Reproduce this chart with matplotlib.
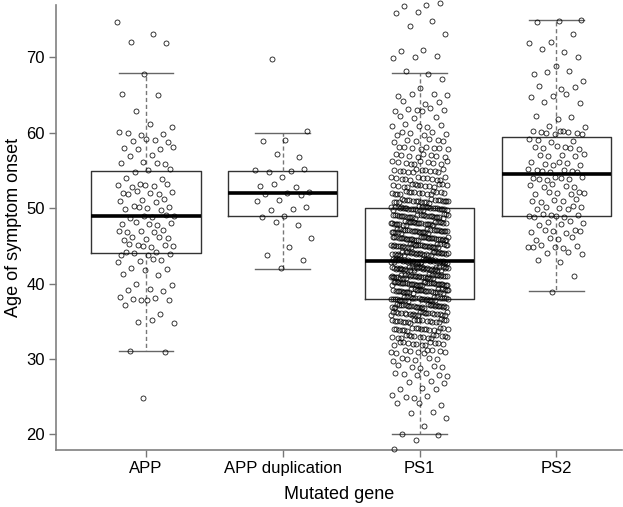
import numpy as np
import matplotlib
matplotlib.use('Agg')
import matplotlib.pyplot as plt

plt.rcParams['font.family'] = ['Liberation Sans', 'DejaVu Sans']

#-------------------------------------------------------------------------------
#DATA (ages of onset, as age: number of patients)

genes = ['APP', 'APP duplication', 'PS1', 'PS2']

app_ages = [75, 73, 72, 68, 65, 63, 61, 60, 59, 58, 57, 56, 55, 54, 53, 52, 51,
            50, 49, 48, 47, 46, 45, 44, 43, 42, 41, 40, 39, 38, 37, 36, 35, 31, 25]
app_counts = [1, 1, 2, 1, 2, 1, 2, 4, 4, 4, 2, 4, 3, 2, 6, 6, 4,
              6, 5, 5, 5, 5, 6, 6, 4, 3, 2, 2, 3, 6, 1, 1, 3, 2, 1]

dup_ages = [70, 60, 59, 57, 55, 54, 53, 52, 51, 50, 49, 48, 46, 45, 44, 43, 42]
dup_counts = [1, 1, 2, 2, 4, 1, 3, 4, 2, 3, 2, 2, 1, 1, 1, 1, 1]

ps1_ages = [77, 76, 75, 74, 73, 71, 70, 68, 67, 66, 65, 64, 63, 62, 61, 60, 59,
            58, 57, 56, 55, 54, 53, 52, 51, 50, 49, 48, 47, 46, 45, 44, 43, 42,
            41, 40, 39, 38, 37, 36, 35, 34, 33, 32, 31, 30, 29, 28, 27, 26, 25,
            24, 23, 22, 21, 20, 19, 18]
ps1_counts = [3, 2, 1, 1, 1, 2, 3, 2, 1, 1, 4, 3, 6, 3, 5, 6, 6,
              8, 8, 10, 12, 12, 14, 16, 22, 30, 28, 30, 32, 32, 32, 32, 38, 38,
              36, 34, 32, 32, 30, 24, 20, 18, 16, 12, 10, 6, 5, 6, 3, 3, 4,
              3, 2, 1, 1, 2, 1, 1]

ps2_ages = [75, 73, 72, 71, 70, 69, 68, 67, 66, 65, 64, 62, 61, 60, 59, 58, 57,
            56, 55, 54, 53, 52, 51, 50, 49, 48, 47, 46, 45, 44, 43, 41, 39]
ps2_counts = [3, 1, 2, 2, 1, 1, 3, 1, 3, 3, 2, 3, 2, 9, 4, 6, 5,
              6, 7, 7, 5, 6, 5, 6, 7, 5, 6, 4, 6, 3, 2, 1, 1]

#box statistics as drawn (lower whisker, Q1, median, Q3, upper whisker)
whislo = [31, 42, 20, 39]
q1 = [44, 49, 38, 49]
med = [49, 52, 43, 54.5]
q3 = [55, 55, 50, 59.5]
whishi = [68, 60, 68, 75]

#-------------------------------------------------------------------------------
#PLOT

fig = plt.figure(figsize=(6.23, 5.07), dpi=100)
ax = fig.add_axes([0.0899, 0.1124, 0.909, 0.878])

stats = []
for i in range(len(genes)):
    stats.append(dict(whislo=whislo[i], q1=q1[i], med=med[i], q3=q3[i],
                      whishi=whishi[i], fliers=[]))

ax.bxp(stats, positions=range(1, 5), widths=0.8, showfliers=False,
       boxprops=dict(color='#333333', linewidth=1.0),
       medianprops=dict(color='black', linewidth=2.6),
       whiskerprops=dict(color='#777777', linewidth=1.0, linestyle=(0, (3, 2))),
       capprops=dict(color='#666666', linewidth=1.0), capwidths=0.4, zorder=1)

#jittered points (deterministic spread, mostly sideways, a little vertically)
groups = [(app_ages, app_counts), (dup_ages, dup_counts),
          (ps1_ages, ps1_counts), (ps2_ages, ps2_counts)]
for i, (ages, counts) in enumerate(groups):
    y = np.repeat(ages, counts).astype(float)
    k = np.arange(len(y))
    dx = ((k*0.6180339887 + 0.31*i) % 1.0 - 0.5)*0.42
    dy = ((k*0.7548776662 + 0.17*i) % 1.0 - 0.5)*0.5
    ax.plot(i + 1 + dx, y + dy, 'o', mfc='none', mec='black', ms=3.6, mew=0.6,
            alpha=0.9, zorder=3, clip_on=False)

ax.set_xlim(0.342, 4.483)
ax.set_ylim(17.92, 76.98)
ax.set_xticks(range(1, 5))
ax.set_xticklabels(genes)
ax.set_yticks([20, 30, 40, 50, 60, 70])
ax.tick_params(colors='#777777', labelcolor='black', labelsize=12,
               length=5, width=1.0, pad=3)

for s in ['top', 'right']:
    ax.spines[s].set_visible(False)
for s in ['left', 'bottom']:
    ax.spines[s].set_color('#808080')
    ax.spines[s].set_linewidth(1.2)

ax.set_xlabel('Mutated gene', fontsize=13, labelpad=7)
ax.set_ylabel('Age of symptom onset', fontsize=13, labelpad=3)

plt.savefig('out.png', dpi=100)
